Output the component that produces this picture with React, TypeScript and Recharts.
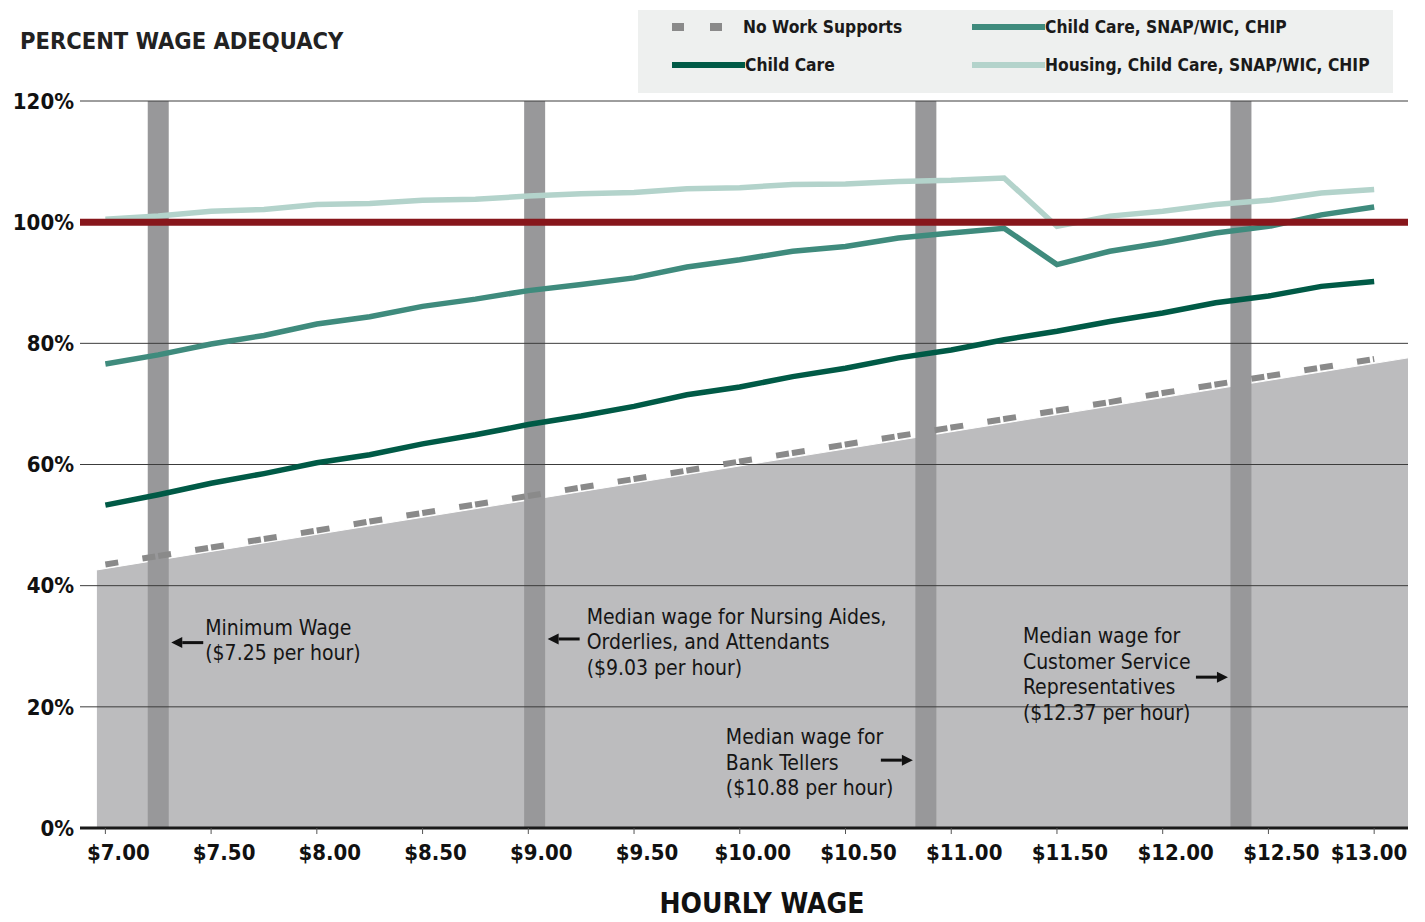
import React from 'react';
import {
  ComposedChart,
  Line,
  Area,
  XAxis,
  YAxis,
  CartesianGrid,
  ReferenceLine,
  ReferenceDot,
  Legend,
} from 'recharts';

// hourly wage steps ($0.25 apart)
const wages = [
  7.0, 7.25, 7.5, 7.75, 8.0, 8.25, 8.5, 8.75, 9.0, 9.25, 9.5, 9.75, 10.0,
  10.25, 10.5, 10.75, 11.0, 11.25, 11.5, 11.75, 12.0, 12.25, 12.5, 12.75, 13.0,
];

// percent wage adequacy by support package
const noWorkSupports = [
  43.5, 44.9, 46.3, 47.7, 49.1, 50.6, 52.0, 53.4, 54.8, 56.2, 57.6, 59.0, 60.5,
  61.9, 63.3, 64.7, 66.1, 67.5, 68.9, 70.3, 71.8, 73.2, 74.6, 76.0, 77.4,
];
const childCare = [
  53.3, 55.0, 56.9, 58.5, 60.3, 61.6, 63.4, 64.9, 66.6, 68.0, 69.6, 71.5, 72.8,
  74.5, 75.9, 77.6, 78.9, 80.6, 82.0, 83.6, 85.0, 86.7, 87.8, 89.4, 90.2,
];
const childCareSnapChip = [
  76.6, 78.1, 79.9, 81.3, 83.2, 84.4, 86.1, 87.3, 88.7, 89.7, 90.8, 92.6, 93.8,
  95.2, 96.0, 97.4, 98.2, 99.0, 93.0, 95.2, 96.6, 98.2, 99.3, 101.2, 102.5,
];
const housingChildCareSnapChip = [
  100.5, 101.0, 101.8, 102.1, 102.9, 103.1, 103.6, 103.8, 104.3, 104.7, 104.9,
  105.5, 105.7, 106.2, 106.3, 106.7, 106.9, 107.3, 99.3, 101.0, 101.8, 102.9,
  103.6, 104.8, 105.4,
];

// shaded band behind the lines
const shadeWages = [6.96, 13.16];
const shadePercent = [42.6, 77.6];

const wageTicks = [7, 7.5, 8, 8.5, 9, 9.5, 10, 10.5, 11, 11.5, 12, 12.5, 13];
const percentTicks = [0, 20, 40, 60, 80, 100, 120];
const standardLevel = 100;

// occupations marked with vertical bars
const markerWages = [7.25, 9.03, 10.88, 12.37];
const markerLabels = [
  ['Minimum Wage', '($7.25 per hour)'],
  ['Median wage for Nursing Aides,', 'Orderlies, and Attendants', '($9.03 per hour)'],
  ['Median wage for', 'Bank Tellers', '($10.88 per hour)'],
  ['Median wage for', 'Customer Service', 'Representatives', '($12.37 per hour)'],
];

const chartRows = wages.map((wage, i) => ({
  wage,
  noSupports: noWorkSupports[i],
  childCare: childCare[i],
  snapChip: childCareSnapChip[i],
  housing: housingChildCareSnapChip[i],
}));

const shadeRows = shadeWages.map((wage, i) => ({ wage, pct: shadePercent[i] }));

const seriesList = [
  { key: 'noSupports', name: 'No Work Supports', color: '#8a8a8a', dashed: true },
  { key: 'childCare', name: 'Child Care', color: '#005a46', dashed: false },
  { key: 'snapChip', name: 'Child Care, SNAP/WIC, CHIP', color: '#3f8b7d', dashed: false },
  { key: 'housing', name: 'Housing, Child Care, SNAP/WIC, CHIP', color: '#b3d3cb', dashed: false },
];

// where each callout sits: arrow height (in %), text offset from the bar, first line offset
const calloutLayout = [
  { y: 30.6, textDx: 47, firstDy: -15 },
  { y: 31.2, textDx: 52, firstDy: -22 },
  { y: 11.2, textDx: -200, firstDy: -23 },
  { y: 24.9, textDx: -218, firstDy: -41 },
];

const formatWage = (v: number) => `$${v.toFixed(2)}`;

const WageTick = (props: any) => {
  const { x, y, payload } = props;
  // labels sit a little right of their tick, but stay inside the frame
  const cx = Math.min(x + 13, 1361);
  return (
    <text x={cx} y={y} dy="0.71em" textAnchor="middle" fontSize={22} fontWeight="bold" fill="#111">
      {formatWage(payload.value)}
    </text>
  );
};

const Callout = ({ cx, cy, lines, layout }: any) => {
  const toRight = layout.textDx < 0; // text on the left, arrow pointing right
  const tip = toRight ? cx - 13 : cx + 13;
  const tail = toRight ? tip - 32 : tip + 32;
  const headBase = toRight ? tip - 11 : tip + 11;
  return (
    <g>
      <line x1={tail} y1={cy} x2={headBase} y2={cy} stroke="#111" strokeWidth={3} />
      <polygon points={`${tip},${cy} ${headBase},${cy - 5.5} ${headBase},${cy + 5.5}`} fill="#111" />
      {lines.map((t: string, i: number) => (
        <text
          key={t}
          x={cx + layout.textDx}
          y={cy + layout.firstDy + i * 25.5}
          dominantBaseline="central"
          fontSize={21}
          fill="#151515"
        >
          {t}
        </text>
      ))}
    </g>
  );
};

const LegendBox = () => (
  <div style={{ position: 'relative', width: 755, height: 83, background: '#eef0ef' }}>
    {seriesList.map((s, i) => {
      const col = i < 2 ? 0 : 1;
      const row = i % 2;
      return (
        <div
          key={s.key}
          style={{
            position: 'absolute',
            left: 34 + col * 300,
            top: 17 + row * 38,
            transform: 'translateY(-50%)',
            display: 'flex',
            alignItems: 'center',
            fontSize: 17.3,
            fontWeight: 'bold',
            color: '#1a1a1a',
            whiteSpace: 'nowrap',
          }}
        >
          <svg width={s.dashed ? 71 : 73} height={10} style={{ display: 'block' }}>
            {s.dashed ? (
              <>
                <rect x={0} y={1} width={12} height={8} fill={s.color} />
                <rect x={38} y={1} width={12} height={8} fill={s.color} />
              </>
            ) : (
              <rect x={0} y={2} width={73} height={6} fill={s.color} />
            )}
          </svg>
          <span>{s.name}</span>
        </div>
      );
    })}
  </div>
);

export default function App() {
  return (
    <div
      style={{
        position: 'relative',
        width: 1417,
        height: 914,
        background: '#fff',
        fontFamily: '"DejaVu Sans Condensed", "DejaVu Sans", sans-serif',
        fontStretch: 'condensed',
      }}
    >
      <div
        style={{
          position: 'absolute',
          left: 12,
          top: 21,
          fontSize: 23.5,
          lineHeight: '24px',
          fontWeight: 'bold',
          color: '#222',
          zIndex: 1,
        }}
      >
        PERCENT WAGE ADEQUACY
      </div>
      <ComposedChart
        width={1417}
        height={914}
        data={chartRows}
        margin={{ top: 93, right: 17, bottom: 54, left: 0 }}
      >
        <XAxis
          type="number"
          dataKey="wage"
          domain={[6.88, 13.16]}
          ticks={wageTicks}
          allowDataOverflow
          tick={<WageTick />}
          tickLine={{ stroke: '#555' }}
          tickSize={6}
          tickMargin={10}
          axisLine={{ stroke: '#1a1a1a', strokeWidth: 3 }}
          height={40}
          label={{
            value: 'HOURLY WAGE',
            position: 'bottom',
            offset: 25,
            dx: 18,
            fontSize: 28,
            fontWeight: 'bold',
            fill: '#111',
          }}
        />
        <YAxis
          type="number"
          domain={[0, 120]}
          ticks={percentTicks}
          allowDataOverflow
          tickFormatter={(v) => `${v}%`}
          axisLine={false}
          tickLine={false}
          tickMargin={0}
          width={72}
          tick={{ fontSize: 22, fontWeight: 'bold', fill: '#111' }}
        />
        <Area
          data={shadeRows}
          dataKey="pct"
          type="linear"
          fill="#bcbcbe"
          fillOpacity={1}
          stroke="#ffffff"
          strokeWidth={1}
          legendType="none"
          activeDot={false}
          isAnimationActive={false}
          zIndex={100}
        />
        {markerWages.map((w) => (
          <ReferenceLine key={`bar-${w}`} x={w} stroke="#98989a" strokeWidth={21} zIndex={150} />
        ))}
        <CartesianGrid vertical={false} stroke="#3c3c3c" zIndex={200} />
        {seriesList.map((s) => (
          <Line
            key={s.key}
            type="linear"
            dataKey={s.key}
            name={s.name}
            stroke={s.color}
            strokeWidth={s.dashed ? 6 : 5.5}
            strokeDasharray={s.dashed ? '13 24.5 13 3' : undefined}
            dot={false}
            activeDot={false}
            isAnimationActive={false}
            zIndex={400}
          />
        ))}
        <ReferenceLine y={standardLevel} stroke="#87161b" strokeWidth={7} zIndex={450} />
        {markerWages.map((w, i) => (
          <ReferenceDot
            key={`callout-${w}`}
            x={w}
            y={calloutLayout[i].y}
            r={0}
            zIndex={600}
            shape={(p: any) => (
              <Callout cx={p.cx} cy={p.cy} lines={markerLabels[i]} layout={calloutLayout[i]} />
            )}
          />
        ))}
        <Legend
          layout="vertical"
          align="center"
          verticalAlign="middle"
          wrapperStyle={{ top: 2, left: 630, width: 755, height: 83 }}
          content={() => <LegendBox />}
        />
      </ComposedChart>
    </div>
  );
}
